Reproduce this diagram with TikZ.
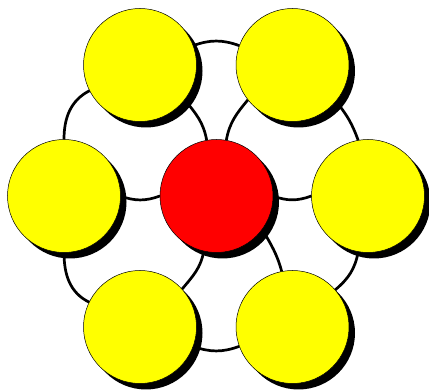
\documentclass[tikz,border=0pt]{standalone}
\usetikzlibrary{shadows,backgrounds}
\definecolor{ballyellow}{RGB}{255,255,0}
\definecolor{hubred}{RGB}{255,0,0}

\begin{document}
\begin{tikzpicture}[x=1pt,y=1pt,
  ball/.style={circle,draw=black,line width=0.5pt,fill=ballyellow,minimum size=113pt,inner sep=0pt,outer sep=0pt,
    drop shadow={shadow xshift=6pt,shadow yshift=-6pt,fill=black,opacity=1}},
  link/.style={line width=2.7pt}]
\useasboundingbox (0,0) rectangle (429,390);
% outer ring
\node[ball] (tl) at (140,325) {}; \node[ball] (tr) at (292.5,325) {};
\node[ball] (l) at (64,194) {}; \node[ball] (r) at (368,194) {};
\node[ball] (bl) at (140,63) {}; \node[ball] (br) at (292.5,63) {};
% hub
\node[ball,fill=hubred] (c) at (216.5,194) {};

\begin{scope}[on background layer]
\draw[link] (tl.20) to[out=20,in=160] (tr.160);
\draw[link] (tr.-40) to[out=-50,in=110] (r.100);
\draw[link] (r.-100) to[out=-100,in=40] (br.41);
\draw[link] (br.200) to[out=200,in=-20] (bl.-20);
\draw[link] (l.-90) to[out=-90,in=154] (bl.154);
\draw[link] (l.90) to[out=90,in=207] (tl.207);
% spokes
\draw[link] (tl.-38) to[out=-50,in=100] (c.100);
\draw[link] (tr.218) to[out=230,in=80] (c.80);
\draw[link] (c.0) to[out=-20,in=-160] (r.180);
\draw[link] (c.-36) to[out=-60,in=105] (br.101);
\draw[link] (c.-103) to[out=-100,in=50] (bl.42);
\draw[link] (l.0) to[out=-20,in=-160] (c.180);
\end{scope}
\end{tikzpicture}
\end{document}
